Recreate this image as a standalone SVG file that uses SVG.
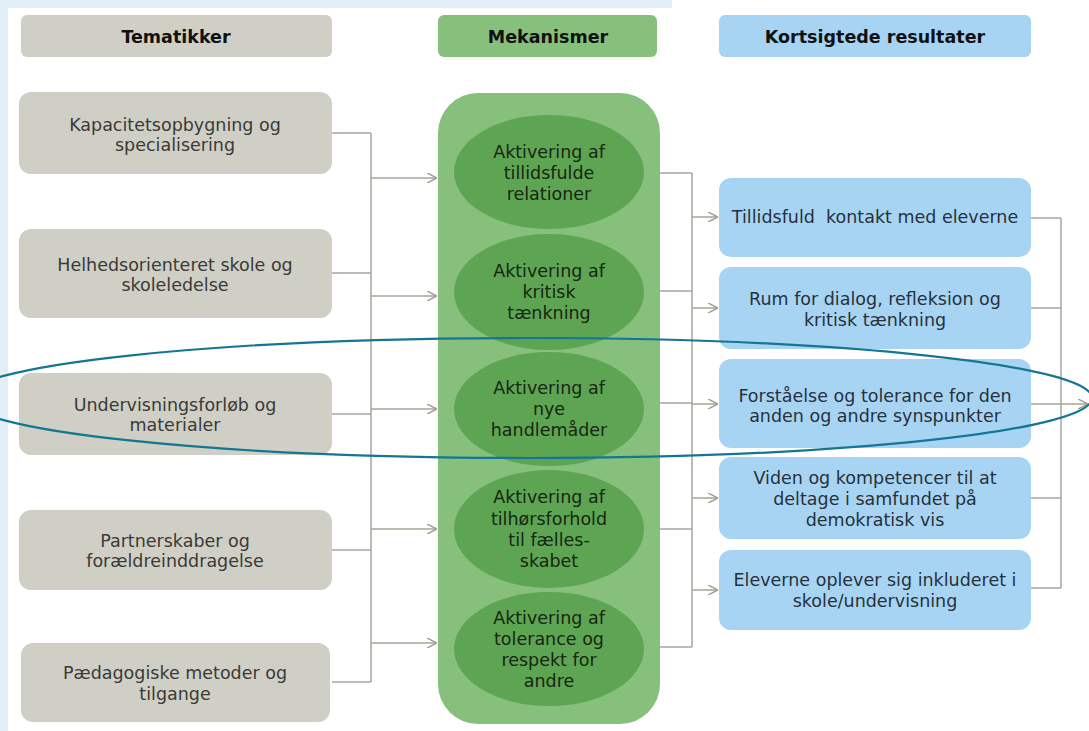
<svg xmlns="http://www.w3.org/2000/svg" width="1089" height="731" viewBox="0 0 1089 731">
<defs>
<marker id="ah" viewBox="0 0 10 10" refX="10" refY="5" markerWidth="10" markerHeight="10" markerUnits="userSpaceOnUse" orient="auto">
<path d="M0,0 L10,5 L0,10" fill="none" stroke="#a09d92" stroke-width="1.5"/>
</marker>
<style>
text{font-family:"DejaVu Sans","Liberation Sans",sans-serif;font-size:17.5px;text-anchor:middle}
.hd{font-weight:bold;fill:#111}
.gr{fill:#d0cfc6}
.gt{fill:#3a3a36}
.gn{fill:#86c07c}
.el{fill:#5da553}
.et{fill:#17260f}
.bl{fill:#a8d4f4}
.bt{fill:#26313b}
.cn{fill:none;stroke:#a8a59a;stroke-width:1.5}
</style>
</defs>
<rect x="0" y="0" width="1089" height="731" fill="#ffffff"/>
<rect x="0" y="0" width="8" height="731" fill="#e3eff7"/>
<rect x="0" y="0" width="672" height="8" fill="#e3eff7"/>

<g id="header-tematikker"><rect class="gr" x="21" y="15" width="311" height="42" rx="6"/><text class="hd" x="176" y="43">Tematikker</text></g>
<g id="header-mekanismer"><rect class="gn" x="438" y="15" width="219" height="42" rx="6"/><text class="hd" x="548" y="43">Mekanismer</text></g>
<g id="header-resultater"><rect class="bl" x="719" y="15" width="312" height="42" rx="6"/><text class="hd" x="875" y="43">Kortsigtede resultater</text></g>

<g id="t1"><rect class="gr" x="19" y="92" width="313" height="82" rx="12"/><text class="gt" x="175" y="131">Kapacitetsopbygning og</text><text class="gt" x="175" y="151">specialisering</text></g>
<g id="t2"><rect class="gr" x="19" y="229" width="313" height="89" rx="12"/><text class="gt" x="175" y="271">Helhedsorienteret skole og</text><text class="gt" x="175" y="291">skoleledelse</text></g>
<g id="t3"><rect class="gr" x="19" y="373" width="313" height="82" rx="12"/><text class="gt" x="175" y="411">Undervisningsforløb og</text><text class="gt" x="175" y="431">materialer</text></g>
<g id="t4"><rect class="gr" x="19" y="510" width="313" height="80" rx="12"/><text class="gt" x="175" y="547">Partnerskaber og</text><text class="gt" x="175" y="567">forældreinddragelse</text></g>
<g id="t5"><rect class="gr" x="21" y="643" width="309" height="79" rx="12"/><text class="gt" x="175" y="679">Pædagogiske metoder og</text><text class="gt" x="175" y="700">tilgange</text></g>

<g id="mekanismer">
<rect class="gn" x="438" y="93" width="222" height="631" rx="40"/>
</g>
<g id="m1"><ellipse class="el" cx="549" cy="172" rx="95" ry="57"/><text class="et" x="549" y="158">Aktivering af</text><text class="et" x="549" y="179">tillidsfulde</text><text class="et" x="549" y="200">relationer</text></g>
<g id="m2"><ellipse class="el" cx="549" cy="292" rx="95" ry="58"/><text class="et" x="549" y="277">Aktivering af</text><text class="et" x="549" y="298">kritisk</text><text class="et" x="549" y="319">tænkning</text></g>
<g id="m3"><ellipse class="el" cx="549" cy="409" rx="95" ry="57"/><text class="et" x="549" y="394">Aktivering af</text><text class="et" x="549" y="415">nye</text><text class="et" x="549" y="436">handlemåder</text></g>
<g id="m4"><ellipse class="el" cx="549" cy="529" rx="95" ry="59"/><text class="et" x="549" y="503">Aktivering af</text><text class="et" x="549" y="525">tilhørsforhold</text><text class="et" x="549" y="546">til fælles-</text><text class="et" x="549" y="567">skabet</text></g>
<g id="m5"><ellipse class="el" cx="549" cy="649" rx="95" ry="57"/><text class="et" x="549" y="624">Aktivering af</text><text class="et" x="549" y="645">tolerance og</text><text class="et" x="549" y="666">respekt for</text><text class="et" x="549" y="687">andre</text></g>

<g id="r1"><rect class="bl" x="719" y="178" width="312" height="79" rx="12"/><text class="bt" x="875" y="223" xml:space="preserve">Tillidsfuld  kontakt med eleverne</text></g>
<g id="r2"><rect class="bl" x="719" y="267" width="312" height="82" rx="12"/><text class="bt" x="875" y="305">Rum for dialog, refleksion og</text><text class="bt" x="875" y="326">kritisk tænkning</text></g>
<g id="r3"><rect class="bl" x="719" y="359" width="312" height="89" rx="12"/><text class="bt" x="875" y="402">Forståelse og tolerance for den</text><text class="bt" x="875" y="422">anden og andre synspunkter</text></g>
<g id="r4"><rect class="bl" x="719" y="457" width="312" height="82" rx="12"/><text class="bt" x="875" y="484">Viden og kompetencer til at</text><text class="bt" x="875" y="505">deltage i samfundet på</text><text class="bt" x="875" y="526">demokratisk vis</text></g>
<g id="r5"><rect class="bl" x="719" y="550" width="312" height="80" rx="12"/><text class="bt" x="875" y="586">Eleverne oplever sig inkluderet i</text><text class="bt" x="875" y="607">skole/undervisning</text></g>

<g id="connectors">
<path class="cn" d="M332,133 H371 M332,273 H371 M332,414 H371 M332,550 H371 M332,682 H371 M371,133 V682"/>
<path class="cn" marker-end="url(#ah)" d="M371,178 H437"/>
<path class="cn" marker-end="url(#ah)" d="M371,296 H437"/>
<path class="cn" marker-end="url(#ah)" d="M371,409 H437"/>
<path class="cn" marker-end="url(#ah)" d="M371,529 H437"/>
<path class="cn" marker-end="url(#ah)" d="M371,643 H437"/>
<path class="cn" d="M660,173 H692 M660,291 H692 M660,403 H692 M660,529 H692 M660,647 H692 M692,173 V647"/>
<path class="cn" marker-end="url(#ah)" d="M692,217 H718"/>
<path class="cn" marker-end="url(#ah)" d="M692,308 H718"/>
<path class="cn" marker-end="url(#ah)" d="M692,404 H718"/>
<path class="cn" marker-end="url(#ah)" d="M692,498 H718"/>
<path class="cn" marker-end="url(#ah)" d="M692,590 H718"/>
<path class="cn" d="M1031,218 H1061 M1031,308 H1061 M1031,498 H1061 M1031,588 H1061 M1061,218 V588"/>
<path class="cn" marker-end="url(#ah)" d="M1031,404 H1088"/>
</g>

<g id="highlight">
<ellipse cx="528" cy="398" rx="564" ry="60" fill="none" stroke="#137793" stroke-width="2.2"/>
</g>
</svg>
